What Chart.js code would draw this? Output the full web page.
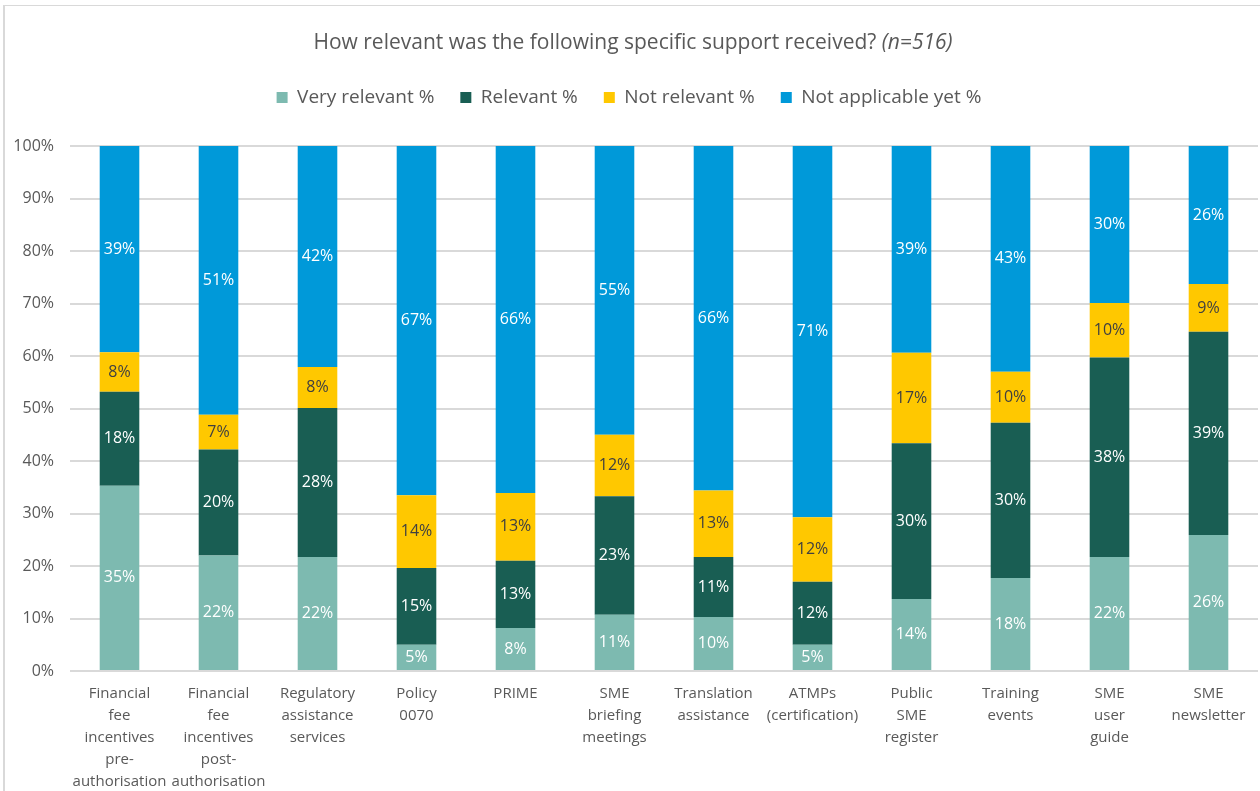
<!DOCTYPE html>
<html>
<head>
<meta charset="utf-8">
<style>
  html, body { margin: 0; padding: 0; background: #fff; }
  #frame {
    position: absolute; left: 3px; top: 5px; width: 1255px; height: 800px;
    border: 1px solid #d9d9d9; border-left-width: 2px;
  }
  #wrap { position: absolute; left: 0; top: 0; width: 1260px; height: 791px; }
</style>
</head>
<body>
<div id="frame"></div>
<div id="wrap"><canvas id="myChart" width="1260" height="791"></canvas></div>

<script src="https://cdn.jsdelivr.net/npm/chart.js"></script>
<script>
  const categories = [
    ['Financial', 'fee', 'incentives', 'pre-', 'authorisation'],
    ['Financial', 'fee', 'incentives', 'post-', 'authorisation'],
    ['Regulatory', 'assistance', 'services'],
    ['Policy', '0070'],
    ['PRIME'],
    ['SME', 'briefing', 'meetings'],
    ['Translation', 'assistance'],
    ['ATMPs', '(certification)'],
    ['Public', 'SME', 'register'],
    ['Training', 'events'],
    ['SME', 'user', 'guide'],
    ['SME', 'newsletter']
  ];

  const veryRelevant  = [35.3, 22.0, 21.7,  5.0,  8.2, 10.7, 10.3,  5.0, 13.7, 17.7, 21.7, 25.9];
  const relevant      = [17.9, 20.2, 28.4, 14.6, 12.8, 22.6, 11.4, 12.0, 29.7, 29.6, 38.0, 38.7];
  const notRelevant   = [ 7.5,  6.6,  7.8, 13.9, 12.9, 11.7, 12.7, 12.3, 17.2,  9.7, 10.4,  9.1];
  const notApplicable = [39.3, 51.2, 42.1, 66.5, 66.1, 55.0, 65.6, 70.7, 39.4, 43.0, 29.9, 26.3];

  const yTicks = [0, 10, 20, 30, 40, 50, 60, 70, 80, 90, 100];

  const FONT = "'Open Sans', 'Noto Sans', sans-serif";
  const GREY = '#595959';

  // title with an italic tail, drawn above the legend
  const titlePlugin = {
    id: 'titleLine',
    afterDraw(chart) {
      const ctx = chart.ctx;
      const a = 'How relevant was the following specific support received? ';
      const b = '(n=516)';
      ctx.save();
      ctx.fillStyle = GREY;
      ctx.textBaseline = 'middle';
      ctx.font = '21px ' + FONT;
      const wa = ctx.measureText(a).width;
      ctx.font = 'italic 21px ' + FONT;
      const wb = ctx.measureText(b).width;
      const x0 = chart.width / 2 - (wa + wb) / 2 + 3;
      ctx.font = '21px ' + FONT;
      ctx.textAlign = 'left';
      ctx.fillText(a, x0, 43);
      ctx.font = 'italic 21px ' + FONT;
      ctx.fillText(b, x0 + wa, 43);
      ctx.restore();
    }
  };

  // percentage labels in the middle of each segment
  const segmentLabels = {
    id: 'segmentLabels',
    afterDatasetsDraw(chart) {
      const ctx = chart.ctx;
      ctx.save();
      ctx.font = '16px ' + FONT;
      ctx.textAlign = 'center';
      ctx.textBaseline = 'middle';
      chart.data.datasets.forEach((ds, i) => {
        const meta = chart.getDatasetMeta(i);
        meta.data.forEach((bar, j) => {
          const v = ds.data[j];
          ctx.fillStyle = ds.labelColor;
          ctx.fillText(Math.round(v) + '%', bar.x, (bar.y + bar.base) / 2);
        });
      });
      ctx.restore();
    }
  };

  // push the plot area down below the legend
  const legendGap = {
    id: 'legendGap',
    beforeInit(chart) {
      const fit = chart.legend.fit;
      chart.legend.fit = function () {
        fit.bind(chart.legend)();
        this.height += 29;
      };
    }
  };

  const ctx = document.getElementById('myChart');
  new Chart(ctx, {
    type: 'bar',
    data: {
      labels: categories,
      datasets: [
        { label: 'Very relevant %', data: veryRelevant, backgroundColor: '#7dbab0', labelColor: '#ffffff' },
        { label: 'Relevant %', data: relevant, backgroundColor: '#195e53', labelColor: '#ffffff' },
        { label: 'Not relevant %', data: notRelevant, backgroundColor: '#ffc800', labelColor: '#404040' },
        { label: 'Not applicable yet %', data: notApplicable, backgroundColor: '#0099d9', labelColor: '#ffffff' }
      ]
    },
    options: {
      responsive: false,
      animation: false,
      layout: { padding: { top: 62, right: 2, left: 0, bottom: 0 } },
      datasets: { bar: { barPercentage: 0.4, categoryPercentage: 1.0 } },
      plugins: {
        title: { display: false },
        tooltip: { enabled: false },
        legend: {
          position: 'top',
          labels: {
            boxWidth: 11,
            boxHeight: 11,
            padding: 26,
            color: GREY,
            font: { family: FONT, size: 19 }
          }
        }
      },
      scales: {
        x: {
          stacked: true,
          grid: { display: false },
          border: { display: false },
          ticks: {
            autoSkip: false,
            maxRotation: 0,
            padding: 4,
            color: GREY,
            font: { family: FONT, size: 15, lineHeight: 1.467 }
          },
          afterFit(scale) { scale.height = 120; }
        },
        y: {
          stacked: true,
          min: 0,
          max: 100,
          afterBuildTicks(scale) { scale.ticks = yTicks.map(v => ({ value: v })); },
          grid: { color: '#d9d9d9', lineWidth: 2, drawTicks: false },
          border: { display: false },
          ticks: {
            padding: 16,
            color: GREY,
            font: { family: FONT, size: 16 },
            callback: v => v + '%'
          },
          afterFit(scale) { scale.width = 70; }
        }
      }
    },
    plugins: [titlePlugin, segmentLabels, legendGap]
  });
</script>
</body>
</html>
